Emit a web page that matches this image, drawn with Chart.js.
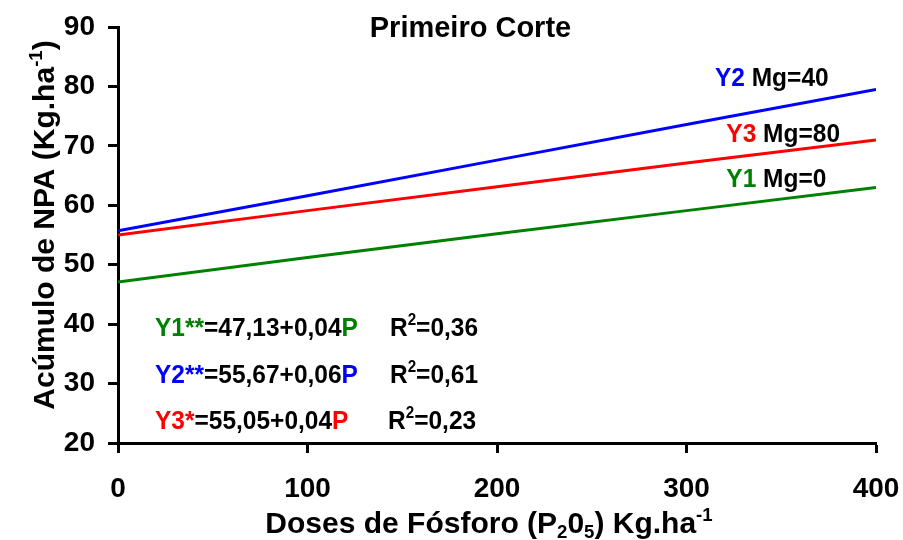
<!DOCTYPE html>
<html>
<head>
<meta charset="utf-8">
<script src="https://cdn.jsdelivr.net/npm/chart.js@4.4.1/dist/chart.umd.min.js"></script>
<style>
  html, body { margin: 0; padding: 0; background: #fff; }
  #c { display: block; }
</style>
</head>
<body>
<canvas id="c" width="903" height="540"></canvas>
<script>
// ---- data ----
const doses = [0, 100, 200, 300, 400];                 // P2O5 Kg.ha-1
const y1Mg0  = [47.1, 51.2, 55.2, 59.1, 63.0];          // Y1 Mg=0
const y2Mg40 = [55.7, 61.6, 67.6, 73.6, 79.5];          // Y2 Mg=40
const y3Mg80 = [55.0, 59.1, 63.1, 67.1, 71.0];          // Y3 Mg=80
const xTicks = [0, 100, 200, 300, 400];
const yTicks = [20, 30, 40, 50, 60, 70, 80, 90];

const GREEN = '#008000', BLUE = '#0000FF', RED = '#FF0000', BLACK = '#000000';
const FONT = '"Liberation Sans", Arial, Helvetica, sans-serif';

function pts(ys) { return doses.map((x, i) => ({ x: x, y: ys[i] })); }

// rich text helper: segments [text, color, mode] mode 0 normal, 1 superscript, -1 subscript
function drawRich(ctx, segs, x, y, size, align, stretch) {
  ctx.save();
  ctx.translate(x, y);
  ctx.scale(1, stretch || 1);
  ctx.textBaseline = 'alphabetic';
  ctx.textAlign = 'left';
  const parts = segs.map(s => {
    const mode = s[2] || 0;
    const sz = mode === 0 ? size : size * 0.62;
    ctx.font = 'bold ' + sz + 'px ' + FONT;
    return { t: s[0], c: s[1], sz: sz, w: ctx.measureText(s[0]).width,
             dy: mode === 1 ? -size * 0.40 : (mode === -1 ? size * 0.18 : 0) };
  });
  const total = parts.reduce((a, p) => a + p.w, 0);
  let cx = align === 'center' ? -total / 2 : 0;
  parts.forEach(p => {
    ctx.font = 'bold ' + p.sz + 'px ' + FONT;
    ctx.fillStyle = p.c;
    ctx.fillText(p.t, cx, p.dy);
    cx += p.w;
  });
  ctx.restore();
}

const textPlugin = {
  id: 'texts',
  afterDraw(chart) {
    const ctx = chart.ctx;
    const xs = chart.scales.x, ys = chart.scales.y;
    const X = v => xs.getPixelForValue(v), Y = v => ys.getPixelForValue(v);

    // chart title
    drawRich(ctx, [['Primeiro Corte', BLACK]], X(186), Y(88.3), 29, 'center', 1.0);

    // series labels
    drawRich(ctx, [['Y2', BLUE], [' Mg=40', BLACK]], X(315), Y(80.1), 24.5, 'left', 1.08);
    drawRich(ctx, [['Y3', RED], [' Mg=80', BLACK]], X(321), Y(70.65), 24.5, 'left', 1.08);
    drawRich(ctx, [['Y1', GREEN], [' Mg=0', BLACK]], X(321), Y(63.1), 24.5, 'left', 1.08);

    // equations
    drawRich(ctx, [['Y1', GREEN], ['**', GREEN], ['=47,13+0,04', BLACK], ['P', GREEN]], X(19.5), Y(38.0), 24.5, 'left', 1.08);
    drawRich(ctx, [['Y2', BLUE], ['**', BLUE], ['=55,67+0,06', BLACK], ['P', BLUE]], X(19.5), Y(30.1), 24.5, 'left', 1.08);
    drawRich(ctx, [['Y3', RED], ['*', RED], ['=55,05+0,04', BLACK], ['P', RED]], X(19.5), Y(22.4), 24.5, 'left', 1.08);
    drawRich(ctx, [['R', BLACK], ['2', BLACK, 1], ['=0,36', BLACK]], X(143.5), Y(38.0), 24.5, 'left', 1.08);
    drawRich(ctx, [['R', BLACK], ['2', BLACK, 1], ['=0,61', BLACK]], X(143.5), Y(30.1), 24.5, 'left', 1.08);
    drawRich(ctx, [['R', BLACK], ['2', BLACK, 1], ['=0,23', BLACK]], X(142.5), Y(22.4), 24.5, 'left', 1.08);

    // x axis title
    drawRich(ctx, [['Doses de Fósforo (P', BLACK], ['2', BLACK, -1], ['0', BLACK], ['5', BLACK, -1],
                   [') Kg.ha', BLACK], ['-1', BLACK, 1]], 489, 533, 30, 'center', 1.0);

    // y axis title (rotated)
    ctx.save();
    ctx.translate(54, 225);
    ctx.rotate(-Math.PI / 2);
    drawRich(ctx, [['Acúmulo de NPA (Kg.ha', BLACK], ['-1', BLACK, 1], [')', BLACK]], 0, 0, 30, 'center', 1.0);
    ctx.restore();
  }
};

const axisCommon = {
  grid: { drawOnChartArea: false, drawTicks: true, tickLength: 10, tickColor: BLACK, tickWidth: 3, color: BLACK },
  border: { display: true, color: BLACK, width: 3 },
};

new Chart(document.getElementById('c'), {
  type: 'scatter',
  data: {
    datasets: [
      { label: 'Y1 Mg=0', data: pts(y1Mg0), showLine: true, borderColor: GREEN, backgroundColor: GREEN, borderWidth: 3, pointRadius: 0, fill: false, tension: 0 },
      { label: 'Y2 Mg=40', data: pts(y2Mg40), showLine: true, borderColor: BLUE, backgroundColor: BLUE, borderWidth: 3, pointRadius: 0, fill: false, tension: 0 },
      { label: 'Y3 Mg=80', data: pts(y3Mg80), showLine: true, borderColor: RED, backgroundColor: RED, borderWidth: 3, pointRadius: 0, fill: false, tension: 0 }
    ]
  },
  options: {
    responsive: false,
    animation: false,
    devicePixelRatio: 1,
    layout: { padding: { left: 0, top: 27, right: 27, bottom: 0 } },
    plugins: { legend: { display: false }, tooltip: { enabled: false }, title: { display: false } },
    scales: {
      x: Object.assign({}, axisCommon, {
        type: 'linear', min: 0, max: 400,
        afterBuildTicks(s) { s.ticks = xTicks.map(v => ({ value: v })); },
        ticks: { color: BLACK, font: { family: FONT, size: 28, weight: 'bold' }, padding: 19, maxRotation: 0 },
        afterFit(s) { s.height = 97; s.paddingLeft = 0; s.paddingRight = 0; }
      }),
      y: Object.assign({}, axisCommon, {
        type: 'linear', min: 20, max: 90,
        afterBuildTicks(s) { s.ticks = yTicks.map(v => ({ value: v })); },
        ticks: { color: BLACK, font: { family: FONT, size: 28, weight: 'bold' }, padding: 13 },
        afterFit(s) { s.width = 118; s.paddingTop = 0; s.paddingBottom = 0; }
      })
    }
  },
  plugins: [textPlugin]
});
</script>
</body>
</html>
